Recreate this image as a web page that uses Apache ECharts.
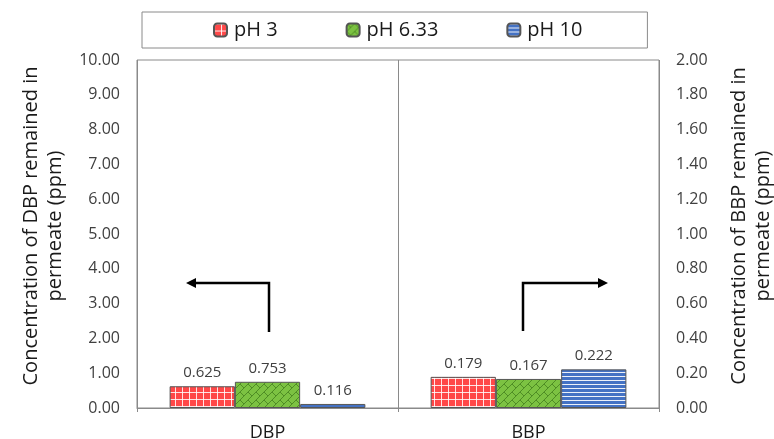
<!DOCTYPE html>
<html>
<head>
<meta charset="utf-8">
<script src="https://cdn.jsdelivr.net/npm/echarts@6/dist/echarts.min.js"></script>
<style>
html,body{margin:0;padding:0;background:#fff;}
#chart{width:774px;height:439px;}
</style>
</head>
<body>
<div id="chart"></div>
<script>
// ---- data ----
const categories = ['DBP', 'BBP'];
const seriesNames = ['pH 3', 'pH 6.33', 'pH 10'];
const dbpValues = [0.625, 0.753, 0.116];   // left axis (DBP, ppm)
const bbpValues = [0.179, 0.167, 0.222];   // right axis (BBP, ppm)
const leftAxisMin = 0, leftAxisMax = 10, leftAxisInterval = 1;
const rightAxisMin = 0, rightAxisMax = 2, rightAxisInterval = 0.2;
const leftAxisTitle = 'Concentration of DBP remained in\npermeate (ppm)';
const rightAxisTitle = 'Concentration of BBP remained in\npermeate (ppm)';

// ---- pattern fills ----
function makeRed() {
  const c = document.createElement('canvas'); c.width = 7; c.height = 7;
  const g = c.getContext('2d');
  g.fillStyle = '#ff4848'; g.fillRect(0, 0, 7, 7);
  g.fillStyle = 'rgba(255,255,255,0.85)';
  g.fillRect(0, 0, 7, 1); g.fillRect(0, 0, 1, 7);
  return c;
}
function makeGreen() {
  const S = 16;
  const c = document.createElement('canvas'); c.width = S; c.height = S;
  const g = c.getContext('2d');
  g.fillStyle = '#7cc242'; g.fillRect(0, 0, S, S);
  g.strokeStyle = '#4f8d25'; g.lineWidth = 1;
  const shifts = [-S, 0, S];
  for (const dx of shifts) for (const dy of shifts) {
    g.beginPath();
    for (let k = 0; k <= 32; k += 8) {
      g.moveTo(dx + 0, dy + k); g.lineTo(dx + k, dy + 0);
    }
    // staggered short cross pieces (shingle look)
    for (let k = 0; k <= 24; k += 8) {
      for (const a of [0, 8]) {
        g.moveTo(dx + a, dy + k - a); g.lineTo(dx + a + 4, dy + k - a + 4);
      }
    }
    g.stroke();
  }
  return c;
}
function makeBlue() {
  const c = document.createElement('canvas'); c.width = 4; c.height = 4;
  const g = c.getContext('2d');
  g.fillStyle = '#4472c4'; g.fillRect(0, 0, 4, 4);
  g.fillStyle = 'rgba(255,255,255,0.9)'; g.fillRect(0, 0, 4, 1);
  return c;
}
const fills = [
  { image: makeRed(), repeat: 'repeat' },
  { image: makeGreen(), repeat: 'repeat' },
  { image: makeBlue(), repeat: 'repeat' }
];

const FONT = 'Open Sans';
const TXT = '#404040';

function labelCfg() {
  return { show: true, position: 'top', distance: 6, fontFamily: FONT, fontSize: 15, color: TXT,
           formatter: p => Number(p.value).toFixed(3) };
}

const series = [];
seriesNames.forEach((name, i) => {
  series.push({
    name, type: 'bar', xAxisIndex: 0, yAxisIndex: 0,
    data: [dbpValues[i], '-'],
    barGap: '0%', barCategoryGap: '25%',
    itemStyle: { color: fills[i], borderColor: '#555', borderWidth: 1 },
    label: labelCfg()
  });
});
seriesNames.forEach((name, i) => {
  series.push({
    name, type: 'bar', xAxisIndex: 1, yAxisIndex: 1,
    data: ['-', bbpValues[i]],
    barGap: '0%', barCategoryGap: '25%',
    itemStyle: { color: fills[i], borderColor: '#555', borderWidth: 1 },
    label: labelCfg()
  });
});

const chart = echarts.init(document.getElementById('chart'), null, { renderer: 'canvas' });
chart.setOption({
  animation: false,
  backgroundColor: '#fff',
  textStyle: { fontFamily: FONT },
  legend: {
    data: seriesNames,
    left: 142, top: 12,
    padding: [8, 65, 8, 71],
    borderColor: '#8a8a8a', borderWidth: 1,
    itemWidth: 13, itemHeight: 13, itemGap: 68,
    textStyle: { fontFamily: FONT, fontSize: 20, color: '#1a1a1a', padding: [0, 0, 0, 2] }
  },
  grid: {
    left: 137, right: 115, top: 60, bottom: 31,
    show: true, borderColor: '#8a8a8a', borderWidth: 1,
    containLabel: false, outerBoundsMode: 'none'
  },
  xAxis: [
    {
      type: 'category', data: categories, gridIndex: 0,
      axisLine: { show: true, lineStyle: { color: '#8a8a8a' } },
      axisTick: { show: true, length: 4, lineStyle: { color: '#8a8a8a' } },
      splitLine: { show: true, lineStyle: { color: '#8a8a8a', width: 1 } },
      axisLabel: { fontFamily: FONT, fontSize: 18, color: '#1a1a1a', margin: 16 }
    },
    {
      type: 'category', data: categories, gridIndex: 0, show: false
    }
  ],
  yAxis: [
    {
      type: 'value', min: leftAxisMin, max: leftAxisMax, interval: leftAxisInterval,
      position: 'left',
      axisLine: { show: false }, axisTick: { show: false }, splitLine: { show: false },
      axisLabel: { fontFamily: FONT, fontSize: 16, color: TXT, margin: 17,
                   formatter: v => v.toFixed(2) },
      name: leftAxisTitle, nameLocation: 'middle', nameRotate: 90, nameGap: 70,
      nameTextStyle: { fontFamily: FONT, fontSize: 20, lineHeight: 24, color: '#1a1a1a',
                       align: 'center', padding: [0, 0, 0, 16] }
    },
    {
      type: 'value', min: rightAxisMin, max: rightAxisMax, interval: rightAxisInterval,
      position: 'right',
      axisLine: { show: false }, axisTick: { show: false }, splitLine: { show: false },
      axisLabel: { fontFamily: FONT, fontSize: 16, color: TXT, margin: 17,
                   formatter: v => v.toFixed(2) },
      name: rightAxisTitle, nameLocation: 'middle', nameRotate: 90, nameGap: 68,
      nameTextStyle: { fontFamily: FONT, fontSize: 20, lineHeight: 24, color: '#1a1a1a',
                       align: 'center', padding: [0, 0, 0, 16] }
    }
  ],
  series,
  graphic: [
    { type: 'polyline', shape: { points: [[269, 332], [269, 283], [194, 283]] },
      style: { stroke: '#000', lineWidth: 2.5, fill: null } },
    { type: 'polygon', shape: { points: [[186, 283], [196, 278], [196, 288]] },
      style: { fill: '#000' } },
    { type: 'polyline', shape: { points: [[523, 331], [523, 283], [600, 283]] },
      style: { stroke: '#000', lineWidth: 2.5, fill: null } },
    { type: 'polygon', shape: { points: [[608, 283], [598, 278], [598, 288]] },
      style: { fill: '#000' } }
  ]
});
</script>
</body>
</html>
